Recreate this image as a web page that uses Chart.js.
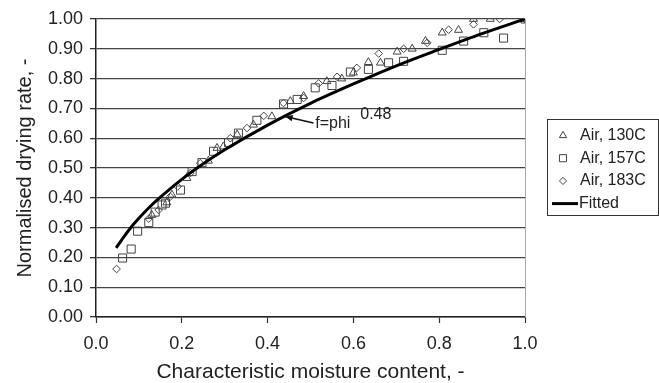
<!DOCTYPE html>
<html>
<head>
<meta charset="utf-8">
<script src="https://cdn.jsdelivr.net/npm/chart.js"></script>
<style>
  html, body { margin: 0; padding: 0; background: #fff; }
  #wrap { width: 659px; height: 383px; position: relative; }
</style>
</head>
<body>
<div id="wrap"><canvas id="chart" width="659" height="383"></canvas></div>
<script>
// ===== Data =====
const xTicks = [0.0, 0.2, 0.4, 0.6, 0.8, 1.0];
const yTicks = [0.0, 0.1, 0.2, 0.3, 0.4, 0.5, 0.6, 0.7, 0.8, 0.9, 1.0];

const seriesLabels = ["Air, 130C", "Air, 157C", "Air, 183C", "Fitted"];

// Air, 130C (triangles)
const x130 = [0.130, 0.165, 0.177, 0.212, 0.262, 0.282, 0.297, 0.329, 0.367, 0.410, 0.453, 0.484, 0.538, 0.573, 0.600, 0.635, 0.663, 0.702, 0.737, 0.768, 0.807, 0.845, 0.880, 0.919, 1.000];
const y130 = [0.342, 0.384, 0.410, 0.466, 0.524, 0.567, 0.572, 0.612, 0.645, 0.673, 0.724, 0.741, 0.791, 0.800, 0.820, 0.855, 0.853, 0.890, 0.900, 0.926, 0.954, 0.963, 1.000, 1.000, 1.000];

// Air, 157C (squares)
const x157 = [0.062, 0.082, 0.097, 0.123, 0.138, 0.154, 0.162, 0.197, 0.224, 0.247, 0.274, 0.309, 0.332, 0.375, 0.437, 0.469, 0.511, 0.550, 0.593, 0.635, 0.682, 0.717, 0.807, 0.857, 0.904, 0.950, 1.000];
const y157 = [0.198, 0.228, 0.288, 0.317, 0.352, 0.376, 0.382, 0.426, 0.488, 0.518, 0.556, 0.585, 0.617, 0.660, 0.715, 0.730, 0.769, 0.777, 0.822, 0.831, 0.853, 0.858, 0.895, 0.926, 0.954, 0.936, 1.000];

// Air, 183C (diamonds)
const x183 = [0.048, 0.123, 0.146, 0.173, 0.190, 0.220, 0.243, 0.313, 0.352, 0.391, 0.437, 0.484, 0.519, 0.562, 0.608, 0.659, 0.717, 0.772, 0.822, 0.880, 0.941, 1.000];
const y183 = [0.161, 0.330, 0.359, 0.404, 0.438, 0.483, 0.516, 0.600, 0.634, 0.675, 0.718, 0.735, 0.784, 0.806, 0.836, 0.884, 0.900, 0.920, 0.964, 0.982, 1.000, 1.000];

// Fitted curve
const fitX = [0.047, 0.06, 0.08, 0.10, 0.125, 0.15, 0.20, 0.25, 0.30, 0.40, 0.50, 0.60, 0.70, 0.80, 0.90, 1.00];
const fitY = [0.232, 0.259, 0.298, 0.331, 0.369, 0.402, 0.462, 0.514, 0.561, 0.644, 0.717, 0.782, 0.843, 0.898, 0.951, 1.000];

const noteMain = "f=phi";
const noteExp = "0.48";

// ===== Helpers =====
const FONT = "'Liberation Sans', Arial, sans-serif";
const INK = "#222";
const MARK = "#444";

function pts(xs, ys){
    return xs.map((x, i) => ({x: x, y: ys[i]}));
}

function drawMarker(ctx, style, x, y, r){
    ctx.beginPath();
    if (style === "triangle"){
        ctx.moveTo(x, y - r);
        ctx.lineTo(x + r * 0.866, y + r * 0.5);
        ctx.lineTo(x - r * 0.866, y + r * 0.5);
        ctx.closePath();
    } else if (style === "rect"){
        const s = r * Math.SQRT1_2;
        ctx.rect(x - s, y - s, 2 * s, 2 * s);
    } else {
        ctx.moveTo(x, y - r);
        ctx.lineTo(x + r, y);
        ctx.lineTo(x, y + r);
        ctx.lineTo(x - r, y);
        ctx.closePath();
    }
    ctx.stroke();
}

// ===== Legend + annotation plugin =====
const extras = {
    id: "extras",
    afterDraw(chart){
        const ctx = chart.ctx;
        const xs = chart.scales.x, ys = chart.scales.y;
        ctx.save();

        // right border of plot
        ctx.strokeStyle = "#aaa";
        ctx.lineWidth = 1;
        ctx.beginPath();
        ctx.moveTo(Math.round(chart.chartArea.right) + 0.5, chart.chartArea.top);
        ctx.lineTo(Math.round(chart.chartArea.right) + 0.5, chart.chartArea.bottom);
        ctx.stroke();

        // annotation arrow
        const tipX = xs.getPixelForValue(0.441), tipY = ys.getPixelForValue(0.673);
        const tailX = xs.getPixelForValue(0.507), tailY = ys.getPixelForValue(0.651);
        ctx.strokeStyle = "#111";
        ctx.fillStyle = "#111";
        ctx.lineWidth = 1.4;
        ctx.beginPath();
        ctx.moveTo(tailX, tailY);
        ctx.lineTo(tipX, tipY);
        ctx.stroke();
        const ang = Math.atan2(tipY - tailY, tipX - tailX);
        ctx.beginPath();
        ctx.moveTo(tipX, tipY);
        ctx.lineTo(tipX - 8 * Math.cos(ang - 0.4), tipY - 8 * Math.sin(ang - 0.4));
        ctx.lineTo(tipX - 8 * Math.cos(ang + 0.4), tipY - 8 * Math.sin(ang + 0.4));
        ctx.closePath();
        ctx.fill();

        ctx.fillStyle = INK;
        ctx.font = "16px " + FONT;
        ctx.textAlign = "left";
        ctx.textBaseline = "middle";
        ctx.fillText(noteMain, xs.getPixelForValue(0.511), ys.getPixelForValue(0.648));
        ctx.fillText(noteExp, xs.getPixelForValue(0.616), ys.getPixelForValue(0.68));

        // legend box
        const box = {left: 547, top: 119, right: 658, bottom: 215};
        ctx.strokeStyle = "#333";
        ctx.lineWidth = 1;
        ctx.strokeRect(box.left + 0.5, box.top + 0.5, box.right - box.left, box.bottom - box.top);

        const rowY0 = 135.5, rowGap = 22.7;
        chart.data.datasets.forEach((ds, i) => {
            const y = rowY0 + i * rowGap;
            if (ds.showLine){
                ctx.strokeStyle = "#000";
                ctx.lineWidth = 3;
                ctx.beginPath();
                ctx.moveTo(552, y);
                ctx.lineTo(578, y);
                ctx.stroke();
            } else {
                ctx.strokeStyle = MARK;
                ctx.lineWidth = 1;
                const r = ds.pointStyle === "triangle" ? 4.2 : ds.pointStyle === "rect" ? 5 : 3.6;
                drawMarker(ctx, ds.pointStyle, 563, y, r);
            }
            ctx.fillStyle = INK;
            ctx.font = "16px " + FONT;
            ctx.textAlign = "left";
            ctx.textBaseline = "middle";
            ctx.fillText(ds.label, ds.showLine ? 579 : 580, y);
        });
        ctx.restore();
    }
};

// ===== Chart =====
const markerBase = {
    showLine: false,
    borderColor: MARK,
    backgroundColor: "rgba(0,0,0,0)",
    pointBorderWidth: 1,
    pointHoverRadius: 0,
    order: 1
};

new Chart(document.getElementById("chart"), {
    type: "scatter",
    data: {
        datasets: [
            Object.assign({}, markerBase, {label: seriesLabels[0], data: pts(x130, y130), pointStyle: "triangle", pointRadius: 4.6}),
            Object.assign({}, markerBase, {label: seriesLabels[1], data: pts(x157, y157), pointStyle: "rect", pointRadius: 5.7}),
            Object.assign({}, markerBase, {label: seriesLabels[2], data: pts(x183, y183), pointStyle: "rectRot", pointRadius: 3.8}),
            {
                label: seriesLabels[3],
                data: pts(fitX, fitY),
                showLine: true,
                borderColor: "#000",
                borderWidth: 3,
                pointRadius: 0,
                cubicInterpolationMode: "monotone",
                order: 0
            }
        ]
    },
    options: {
        responsive: false,
        animation: false,
        devicePixelRatio: 1,
        layout: {padding: {top: 19, right: 134, bottom: 0, left: 0}},
        plugins: {legend: {display: false}, tooltip: {enabled: false}},
        scales: {
            x: {
                type: "linear",
                min: 0, max: 1,
                afterBuildTicks: s => { s.ticks = xTicks.map(v => ({value: v})); },
                afterFit: s => { s.height = 66; },
                ticks: {
                    color: INK,
                    font: {family: FONT, size: 18},
                    padding: 10,
                    callback: v => Number(v).toFixed(1)
                },
                grid: {
                    drawOnChartArea: false,
                    drawTicks: true,
                    tickLength: 6,
                    tickColor: "#333",
                    tickWidth: 1.2
                },
                border: {display: true, color: "#222", width: 1.5},
                title: {
                    display: true,
                    text: "Characteristic moisture content, -",
                    color: INK,
                    font: {family: FONT, size: 21, lineHeight: 1},
                    padding: {top: 0, bottom: 0}
                }
            },
            y: {
                type: "linear",
                min: 0, max: 1,
                afterBuildTicks: s => { s.ticks = yTicks.map(v => ({value: v})); },
                afterFit: s => { s.width = 96; },
                ticks: {
                    color: INK,
                    font: {family: FONT, size: 18},
                    padding: 7,
                    callback: v => Number(v).toFixed(2)
                },
                grid: {
                    color: "#444",
                    lineWidth: 1.3,
                    drawTicks: true,
                    tickLength: 6,
                    tickColor: "#333"
                },
                border: {display: true, color: "#222", width: 1.5},
                title: {
                    display: true,
                    text: "Normalised drying rate, -",
                    color: INK,
                    font: {family: FONT, size: 20, lineHeight: 1},
                    padding: {top: 15, bottom: 0}
                }
            }
        }
    },
    plugins: [extras]
});
</script>
</body>
</html>
